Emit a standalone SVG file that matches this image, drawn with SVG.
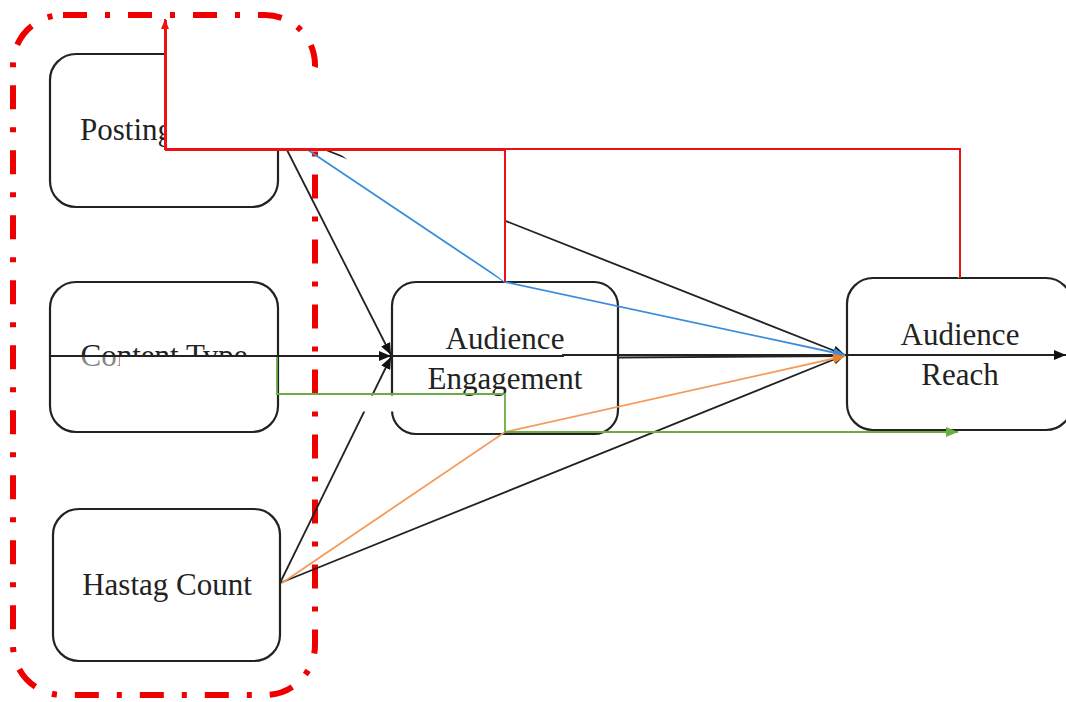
<svg xmlns="http://www.w3.org/2000/svg" width="1066" height="702" viewBox="0 0 1066 702">
  <style>
    .box { fill: #ffffff; stroke: #222222; stroke-width: 2.2; }
    .label { font-family: "Liberation Serif", "Times New Roman", serif; font-size: 31px; fill: #222222; }
    .mid { text-anchor: middle; }
    .frame { fill: none; stroke: #ee0000; stroke-width: 6; stroke-dasharray: 24 18 5 18; }
    .k { fill: none; stroke: #222222; stroke-width: 1.8; }
    .b { fill: none; stroke: #3b8ddb; stroke-width: 1.8; }
    .o { fill: none; stroke: #f29b5c; stroke-width: 1.8; }
    .g { fill: none; stroke: #6aad45; stroke-width: 1.8; }
    .r { fill: none; stroke: #ee1111; stroke-width: 2; }
    .mask { fill: #ffffff; stroke: none; }
  </style>
  <defs>
    <marker id="ak" viewBox="0 0 12 10" refX="12" refY="5" markerWidth="12" markerHeight="10" markerUnits="userSpaceOnUse" orient="auto">
      <path d="M0,0 L12,5 L0,10 z" fill="#111111"/>
    </marker>
    <marker id="ab" viewBox="0 0 12 10" refX="12" refY="5" markerWidth="12" markerHeight="10" markerUnits="userSpaceOnUse" orient="auto">
      <path d="M0,0 L12,5 L0,10 z" fill="#3b8ddb"/>
    </marker>
    <marker id="ao" viewBox="0 0 12 10" refX="12" refY="5" markerWidth="12" markerHeight="10" markerUnits="userSpaceOnUse" orient="auto">
      <path d="M0,0 L12,5 L0,10 z" fill="#f07f2a"/>
    </marker>
    <marker id="ag" viewBox="0 0 12 10" refX="12" refY="5" markerWidth="12" markerHeight="10" markerUnits="userSpaceOnUse" orient="auto">
      <path d="M0,0 L12,5 L0,10 z" fill="#6aad45"/>
    </marker>
    <marker id="ar" viewBox="0 0 10 8" refX="10" refY="4" markerWidth="10" markerHeight="8" markerUnits="userSpaceOnUse" orient="auto">
      <path d="M0,0 L10,4 L0,8 z" fill="#ee1111"/>
    </marker>
    <clipPath id="clip-upper"><rect x="0" y="0" width="400" height="356.5"/></clipPath>
    <clipPath id="clip-co"><rect x="60" y="356.5" width="60" height="30"/></clipPath>
  </defs>

  <!-- dash-dot grouping frame around the three inputs -->
  <g id="input-frame">
    <rect class="frame" x="13" y="15" width="302" height="680" rx="50" ry="50"/>
  </g>

  <!-- nodes -->
  <g id="node-posting">
    <rect class="box" x="50" y="54" width="228" height="153" rx="26" ry="26"/>
    <text class="label" x="80" y="140">Posting</text>
  </g>
  <g id="node-content-type">
    <rect class="box" x="50" y="282" width="228" height="150" rx="26" ry="26"/>
    <text class="label mid" x="164" y="366" clip-path="url(#clip-upper)">Content Type</text>
    <text class="label mid" x="164" y="366" clip-path="url(#clip-co)" opacity="0.55">Content Type</text>
  </g>
  <g id="node-hashtag-count">
    <rect class="box" x="53" y="509" width="227" height="152" rx="26" ry="26"/>
    <text class="label mid" x="167" y="595">Hastag Count</text>
  </g>
  <g id="node-engagement">
    <rect class="box" x="392" y="282" width="226" height="152" rx="24" ry="24"/>
    <text class="label mid" x="505" y="349">Audience</text>
    <text class="label mid" x="505" y="389">Engagement</text>
  </g>
  <g id="node-reach">
    <rect class="box" x="847" y="278" width="225" height="152" rx="26" ry="26"/>
    <text class="label mid" x="960" y="345">Audience</text>
    <text class="label mid" x="960" y="385">Reach</text>
  </g>

  <!-- connectors -->
  <g id="connectors">
    <!-- black paths -->
    <line class="k" x1="50" y1="356" x2="391" y2="356" marker-end="url(#ak)"/>
    <line class="k" x1="287" y1="150" x2="391" y2="355" marker-end="url(#ak)"/>
    <line class="k" x1="280" y1="583" x2="391" y2="357" marker-end="url(#ak)"/>
    <polyline class="k" points="392,356 563,356 563,355 845,355" marker-end="url(#ak)"/>
    <line class="k" x1="618" y1="357.5" x2="845" y2="356"/>
    <line class="k" x1="845" y1="355" x2="1066" y2="355" marker-end="url(#ak)"/>
    <line class="k" x1="283" y1="133" x2="845" y2="355" marker-end="url(#ak)"/>
    <line class="k" x1="280" y1="583" x2="845" y2="355" marker-end="url(#ak)"/>

    <!-- blue, orange, green mediated paths -->
    <polyline class="b" points="308,150 505,282 845,355" marker-end="url(#ab)"/>
    <polyline class="o" points="282,583 505,432 845,356" marker-end="url(#ao)"/>
    <polyline class="g" points="277,357 277,394 505,394 505,432 958,432" marker-end="url(#ag)"/>

    <!-- red feedback paths (white-filled bodies) -->
    <polyline class="mask" points="960,278 960,149 165,149 165,18"/>
    <polyline class="mask" points="505,282 505,149 165,149 165,18"/>
    <polyline class="r" points="960,278 960,149 165,149 165,19" marker-end="url(#ar)"/>
    <polyline class="r" points="505,282 505,150 166,150 166,20"/>

    <!-- break where paths pass the engagement corner -->
    <rect class="mask" x="352" y="395.5" width="44" height="16"/>
  </g>
</svg>
